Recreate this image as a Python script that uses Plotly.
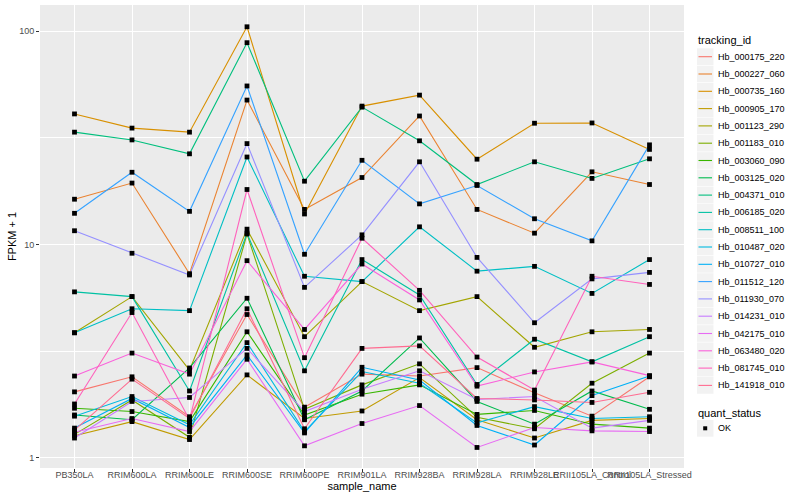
import plotly.graph_objects as go

samples = ["PB350LA", "RRIM600LA", "RRIM600LE", "RRIM600SE", "RRIM600PE", "RRIM901LA",
           "RRIM928BA", "RRIM928LA", "RRIM928LE", "RRII105LA_Control", "RRII105LA_Stressed"]

tracking_ids = ["Hb_000175_220", "Hb_000227_060", "Hb_000735_160", "Hb_000905_170", "Hb_001123_290",
                "Hb_001183_010", "Hb_003060_090", "Hb_003125_020", "Hb_004371_010", "Hb_006185_020",
                "Hb_008511_100", "Hb_010487_020", "Hb_010727_010", "Hb_011512_120", "Hb_011930_070",
                "Hb_014231_010", "Hb_042175_010", "Hb_063480_020", "Hb_081745_010", "Hb_141918_010"]

colors = ["#F8766D", "#EA8331", "#D89000", "#C09B00", "#A3A500", "#7CAE00", "#39B600", "#00BB4E",
          "#00BF7D", "#00C1A3", "#00BFC4", "#00BAE0", "#00B0F6", "#35A2FF", "#9590FF", "#C77CFF",
          "#E76BF3", "#FA62DB", "#FF62BC", "#FF6C91"]

# FPKM + 1 values, one list per tracking_id, in sample order
hb_000175_220 = [2.04, 2.40, 1.56, 4.7, 1.73, 2.47, 2.42, 2.65, 2.02, 1.57, 2.40]
hb_000227_060 = [16.3, 19.4, 7.3, 47.5, 14.6, 20.6, 40.0, 14.6, 11.3, 21.9, 19.1]
hb_000735_160 = [40.9, 35.1, 33.6, 104.7, 13.9, 44.5, 50.1, 25.1, 37.0, 37.1, 27.9]
hb_000905_170 = [1.27, 1.48, 1.22, 2.45, 1.53, 1.66, 2.38, 1.51, 1.24, 1.50, 1.53]
hb_001123_290 = [3.86, 5.7, 2.58, 11.8, 3.7, 6.7, 4.9, 5.7, 3.3, 3.9, 4.0]
hb_001183_010 = [1.29, 1.87, 1.25, 11.2, 1.69, 2.20, 2.76, 1.55, 1.37, 2.24, 3.1]
hb_003060_090 = [1.71, 1.65, 1.48, 3.9, 1.59, 1.99, 2.20, 1.60, 1.67, 1.44, 1.38]
hb_003125_020 = [1.59, 1.51, 2.64, 5.6, 1.51, 2.06, 3.65, 1.84, 1.44, 2.06, 1.69]
hb_004371_010 = [33.6, 30.9, 26.6, 88.2, 19.8, 44.0, 30.6, 19.1, 24.4, 20.4, 25.2]
hb_006185_020 = [6.0, 5.7, 2.06, 11.3, 2.56, 8.5, 5.8, 2.21, 3.6, 2.82, 3.7]
hb_008511_100 = [3.86, 5.0, 4.9, 25.7, 7.1, 6.7, 12.1, 7.5, 7.9, 5.9, 8.5]
hb_010487_020 = [1.57, 1.94, 1.43, 3.47, 1.33, 2.54, 2.24, 1.46, 1.74, 1.53, 1.56]
hb_010727_010 = [1.38, 1.90, 1.39, 3.04, 1.31, 2.66, 2.32, 1.42, 1.15, 1.96, 2.42]
hb_011512_120 = [14.0, 21.8, 14.3, 55.3, 9.0, 24.8, 15.5, 18.9, 13.2, 10.4, 29.3]
hb_011930_070 = [11.6, 9.1, 7.2, 29.7, 6.3, 11.1, 24.4, 8.7, 4.3, 6.9, 7.4]
hb_014231_010 = [1.24, 1.84, 1.92, 3.26, 1.65, 2.10, 2.56, 1.88, 1.94, 1.38, 1.50]
hb_042175_010 = [1.32, 1.53, 1.33, 2.90, 1.14, 1.45, 1.76, 1.12, 1.39, 1.34, 1.33]
hb_063480_020 = [2.42, 3.1, 2.47, 8.4, 4.0, 8.1, 5.5, 2.17, 2.53, 2.82, 2.43]
hb_081745_010 = [1.79, 4.8, 1.51, 18.1, 2.95, 10.7, 6.1, 2.97, 2.08, 7.1, 6.5]
hb_141918_010 = [1.35, 2.34, 1.53, 5.0, 1.37, 3.26, 3.35, 1.90, 1.87, 1.82, 2.03]

series = [hb_000175_220, hb_000227_060, hb_000735_160, hb_000905_170, hb_001123_290,
          hb_001183_010, hb_003060_090, hb_003125_020, hb_004371_010, hb_006185_020,
          hb_008511_100, hb_010487_020, hb_010727_010, hb_011512_120, hb_011930_070,
          hb_014231_010, hb_042175_010, hb_063480_020, hb_081745_010, hb_141918_010]

quant_status = ["OK"]

y_tick_vals = [1, 10, 100]
y_tick_text = ["1", "10", "100"]
y_minor_vals = [3.1623, 31.623]

FONT = "Liberation Sans, Arial, Helvetica, sans-serif"

W, H = 800, 500
ML, MR, MT, MB = 40, 116, 5, 32
PW, PH = W - ML - MR, H - MT - MB


def px_x(px):
    return (px - ML) / PW


def px_y(py):
    return (H - MB - py) / PH


fig = go.Figure()
for tid, col, vals in zip(tracking_ids, colors, series):
    fig.add_trace(go.Scatter(x=samples, y=vals, mode="lines", name=tid,
                             line=dict(color=col, width=1.1), showlegend=False))

all_x = [s for vals in series for s in samples]
all_y = [v for vals in series for v in vals]
fig.add_trace(go.Scatter(x=all_x, y=all_y, mode="markers", name=quant_status[0],
                         marker=dict(symbol="square", size=4.8, color="black"),
                         showlegend=False))

# ggplot-style legends drawn in paper space
shapes = []
annotations = []
key_l, key_r = 697, 713.5
row0, row_h = 56.7, 17.3
annotations.append(dict(text="tracking_id", x=px_x(696), y=px_y(40), xref="paper", yref="paper",
                        xanchor="left", yanchor="middle", showarrow=False,
                        font=dict(size=11, color="black", family=FONT)))
for i, (tid, col) in enumerate(zip(tracking_ids, colors)):
    cy = row0 + i * row_h
    shapes.append(dict(type="rect", xref="paper", yref="paper",
                       x0=px_x(key_l), x1=px_x(key_r), y0=px_y(cy - row_h / 2 + 0.3), y1=px_y(cy + row_h / 2 - 0.3),
                       fillcolor="#F2F2F2", line=dict(width=0), layer="below"))
    shapes.append(dict(type="line", xref="paper", yref="paper",
                       x0=px_x(key_l + 1.5), x1=px_x(key_r - 1.5), y0=px_y(cy), y1=px_y(cy),
                       line=dict(color=col, width=1.1)))
    annotations.append(dict(text=tid, x=px_x(716), y=px_y(cy), xref="paper", yref="paper",
                            xanchor="left", yanchor="middle", showarrow=False,
                            font=dict(size=9, color="black", family=FONT)))

annotations.append(dict(text="quant_status", x=px_x(696), y=px_y(412.5), xref="paper", yref="paper",
                        xanchor="left", yanchor="middle", showarrow=False,
                        font=dict(size=11, color="black", family=FONT)))
ok_y = 428.3
shapes.append(dict(type="rect", xref="paper", yref="paper",
                   x0=px_x(key_l), x1=px_x(key_r), y0=px_y(ok_y - row_h / 2 + 0.3), y1=px_y(ok_y + row_h / 2 - 0.3),
                   fillcolor="#F2F2F2", line=dict(width=0), layer="below"))
shapes.append(dict(type="rect", xref="paper", yref="paper",
                   x0=px_x(703.2), x1=px_x(707.2), y0=px_y(ok_y - 2), y1=px_y(ok_y + 2),
                   fillcolor="black", line=dict(width=0)))
annotations.append(dict(text=quant_status[0], x=px_x(716), y=px_y(ok_y), xref="paper", yref="paper",
                        xanchor="left", yanchor="middle", showarrow=False,
                        font=dict(size=9, color="black", family=FONT)))

fig.update_layout(
    width=W, height=H,
    margin=dict(l=ML, r=MR, t=MT, b=MB, autoexpand=False),
    paper_bgcolor="white",
    plot_bgcolor="#EBEBEB",
    font=dict(family=FONT, size=9, color="#4D4D4D"),
    showlegend=False,
    shapes=shapes,
    annotations=annotations,
    xaxis=dict(type="category", categoryorder="array", categoryarray=samples,
               range=[-0.6, 10.6], showgrid=True, gridcolor="white", gridwidth=1.1,
               zeroline=False, ticks="outside", ticklen=3, tickcolor="#333333", tickwidth=1,
               tickangle=0, automargin=False, ticklabelstandoff=-5,
               tickfont=dict(size=9, color="#4D4D4D"),
               title=dict(text="sample_name", font=dict(size=11, color="black"), standoff=1)),
    yaxis=dict(type="log", range=[-0.047, 2.122], tickvals=y_tick_vals, ticktext=y_tick_text,
               showgrid=True, gridcolor="white", gridwidth=1.1, zeroline=False,
               ticks="outside", ticklen=3, tickcolor="#333333", tickwidth=1, automargin=False,
               tickfont=dict(size=9, color="#4D4D4D"),
               minor=dict(tickvals=y_minor_vals, showgrid=True, gridcolor="white", gridwidth=0.55, ticks=""),
               title=dict(text="FPKM + 1", font=dict(size=11, color="black"), standoff=0)),
)

fig.write_html("out.html", config={"displayModeBar": False},
               post_script="document.body.style.margin='0';document.body.style.padding='0';"
                           "document.body.style.overflow='hidden';")
